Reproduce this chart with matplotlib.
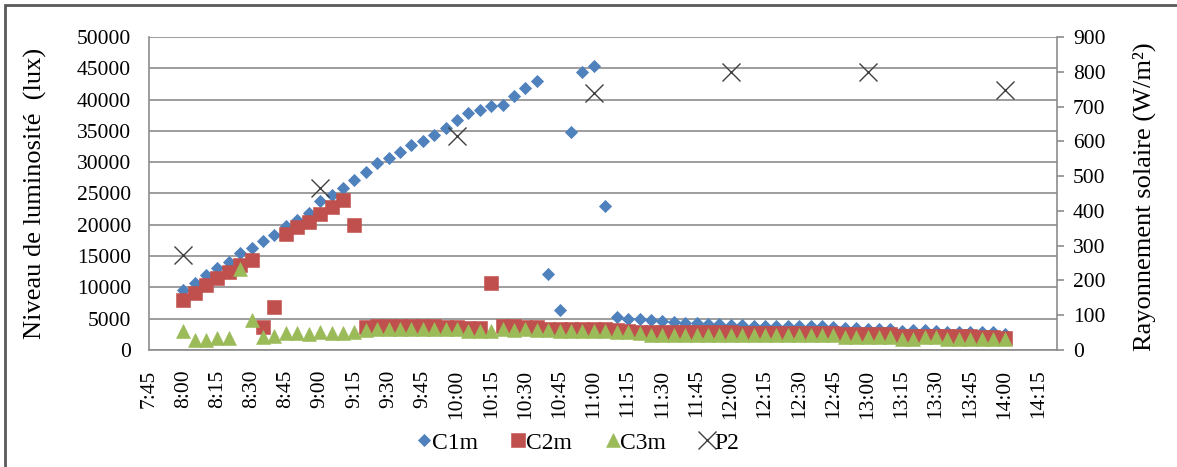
import matplotlib
matplotlib.use("Agg")
import matplotlib.pyplot as plt
from matplotlib.patches import Rectangle

# sampling times, every 5 min from 8:00 to 14:00 (minutes since midnight)
times = list(range(8 * 60, 14 * 60 + 1, 5))

c1m = [9600, 10700, 12000, 13100, 14100, 15500, 16300, 17400, 18400, 19800, 20800, 21900,
       23800, 24800, 25800, 27100, 28400, 29800, 30600, 31600, 32700, 33400, 34300, 35400,
       36700, 37800, 38300, 38900, 39200, 40500, 41800, 42900, 12100, 6400, 34900, 44400,
       45300, 23000, 5300, 4900, 4900, 4800, 4600, 4400, 4300, 4300, 4100, 4100,
       4000, 4000, 3900, 3900, 3900, 3800, 3800, 3800, 3800, 3700, 3500, 3500,
       3400, 3400, 3400, 3000, 3200, 3200, 3000, 2900, 2900, 2900, 2800, 2800,
       2600]

c2m = [8000, 9100, 10400, 11500, 12500, 13600, 14400, 3700, 6900, 18500, 19700, 20500,
       21700, 22800, 23900, 20000, 3700, 3800, 3800, 3800, 3800, 3800, 3800, 3700,
       3600, 3500, 3500, 10700, 3800, 3800, 3700, 3600, 3400, 3400, 3400, 3400,
       3400, 3300, 3200, 3000, 2900, 2900, 2800, 2800, 2800, 2800, 2800, 2800,
       2800, 2700, 2700, 2700, 2700, 2700, 2700, 2700, 2700, 2700, 2600, 2600,
       2600, 2500, 2500, 2200, 2200, 2300, 2300, 2200, 2200, 2200, 2100, 2100,
       1900]

c3m = [3000, 1600, 1600, 1900, 1900, 13000, 4800, 2100, 2300, 2700, 2700, 2500,
       2900, 2700, 2700, 2900, 3200, 3300, 3300, 3300, 3300, 3400, 3400, 3400,
       3400, 3000, 3000, 3000, 3300, 3200, 3300, 3200, 3200, 3000, 3100, 3100,
       3000, 3000, 2900, 2800, 2700, 2400, 2400, 2400, 2400, 2400, 2400, 2400,
       2400, 2400, 2400, 2400, 2400, 2400, 2400, 2400, 2400, 2400, 2100, 2100,
       2100, 2000, 2000, 1700, 1800, 2000, 2000, 1800, 1800, 1800, 1800, 1800,
       1800]

p2_times = [8 * 60, 9 * 60, 10 * 60, 11 * 60, 12 * 60, 13 * 60, 14 * 60]
p2 = [273, 465, 615, 738, 800, 800, 748]

tick_minutes = list(range(7 * 60 + 45, 14 * 60 + 16, 15))
tick_labels = ["%d:%02d" % (m // 60, m % 60) for m in tick_minutes]

BLUE = "#4F81BD"
RED = "#C0504D"
GREEN = "#9BBB59"
GRID = "#8C8C8C"

plt.rcParams["font.family"] = ["Liberation Serif", "DejaVu Serif"]

fig = plt.figure(figsize=(11.77, 4.67), dpi=100)
ax = fig.add_axes([149 / 1177, 1 - 350 / 467, 908 / 1177, 313 / 467])

ax.plot(times, c1m, linestyle="none", marker="D", ms=6.5, color=BLUE, mec=BLUE, mew=0.6, label="C1m")
ax.plot(times, c2m, linestyle="none", marker="s", ms=9.5, color=RED, mec=RED, mew=0.4, label="C2m")
ax.plot(times, c3m, linestyle="none", marker="^", ms=9.5, color=GREEN, mec=GREEN, mew=0.4, label="C3m")

ax.set_xlim(7 * 60 + 45, 14 * 60 + 23)
ax.set_ylim(0, 50000)
ax.set_yticks(range(0, 50001, 5000))
ax.set_xticks(tick_minutes)
ax.set_xticklabels(tick_labels, rotation=90)
ax.tick_params(axis="x", length=0, pad=14, labelsize=15.5)
ax.tick_params(axis="y", length=0, pad=13, labelsize=15.5)
ax.yaxis.grid(True, color=GRID, linewidth=1.2)
ax.set_axisbelow(True)
for side in ["left", "bottom"]:
    ax.spines[side].set_color(GRID)
    ax.spines[side].set_linewidth(1.2)
ax.spines["top"].set_visible(False)
ax.spines["right"].set_visible(False)
ax.set_ylabel("Niveau de luminosité  (lux)", fontsize=19)
ax.yaxis.set_label_coords(-0.112, 0.5)

ax2 = ax.twinx()
ax2.plot(p2_times, p2, linestyle="none", marker="x", ms=13, color="#404040", mew=1.0, label="P2")
ax2.set_ylim(0, 900)
ax2.set_yticks(range(0, 901, 100))
ax2.tick_params(axis="y", length=5, width=1.2, color=GRID, pad=6.5, labelsize=15.5)
ax2.spines["right"].set_color(GRID)
ax2.spines["right"].set_linewidth(1.2)
for side in ["left", "bottom", "top"]:
    ax2.spines[side].set_visible(False)
ax2.set_ylabel("Rayonnement solaire (W/m²)", fontsize=19)
ax2.yaxis.set_label_coords(1.083, 0.49)

handles = ax.get_lines() + ax2.get_lines()
fig.legend(handles, [h.get_label() for h in handles], loc="center",
           bbox_to_anchor=(579 / 1177, 1 - 443 / 467), ncol=4, frameon=False,
           fontsize=17, handlelength=0.45, handletextpad=0.1, columnspacing=1.5,
           numpoints=1)

# outer chart frame
fig.patches.append(Rectangle((5 / 1177, -0.05), 1.2, (1 - 5 / 467) + 0.05,
                             transform=fig.transFigure, fill=False,
                             edgecolor="#5A5A5A", linewidth=2))

fig.savefig("out.png", dpi=100)
